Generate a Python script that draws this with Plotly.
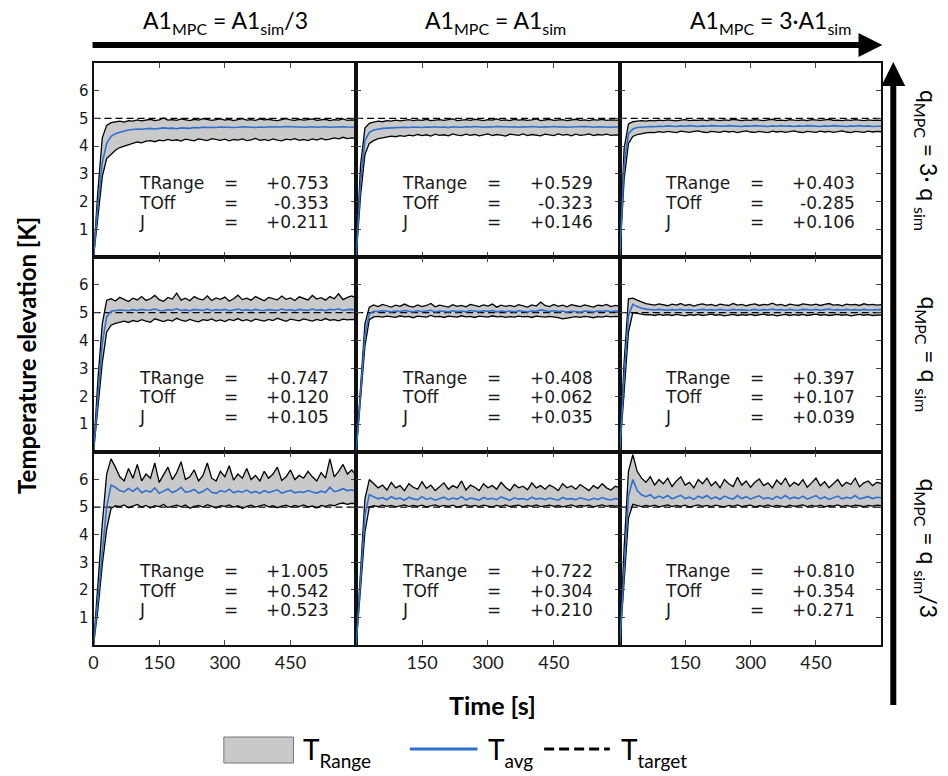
import plotly.graph_objects as go

# ---------------- data ----------------
TIME_S = list(range(0, 601, 10))
TARGET_K = 5.0

TRANGE = [0.753, 0.529, 0.403, 0.747, 0.408, 0.397, 1.005, 0.722, 0.810]
TOFF = [-0.353, -0.323, -0.285, 0.120, 0.062, 0.107, 0.542, 0.304, 0.354]
J_VAL = [0.211, 0.146, 0.106, 0.105, 0.035, 0.039, 0.523, 0.210, 0.271]

X_TICKS = [0, 150, 300, 450]
Y_TICKS = [1, 2, 3, 4, 5, 6]

# row 1 : q_MPC = 3 q_sim
P11_UP = [0, 2.4, 4.3, 4.75, 4.85, 4.88, 4.9, 4.87, 4.92, 4.9,
          4.95, 4.91, 4.93, 4.97, 4.92, 4.95, 5.02, 4.94, 4.96, 4.93,
          4.98, 4.95, 4.92, 4.97, 4.94, 4.99, 4.95, 4.93, 4.96, 4.98,
          4.94, 4.97, 4.92, 4.95, 4.99, 4.94, 4.96, 4.93, 4.98, 4.95,
          4.97, 4.94, 4.92, 4.96, 4.99, 4.95, 4.93, 4.97, 4.94, 4.96,
          4.98, 4.93, 4.95, 4.97, 4.92, 4.96, 4.94, 4.98, 4.93, 4.95,
          4.94]
P11_AVG = [0, 1.9, 3.4, 4.1, 4.35, 4.45, 4.5, 4.55, 4.58, 4.6,
           4.62, 4.61, 4.63, 4.64, 4.62, 4.65, 4.66, 4.64, 4.65, 4.63,
           4.66, 4.65, 4.64, 4.67, 4.66, 4.68, 4.67, 4.66, 4.67, 4.69,
           4.68, 4.69, 4.67, 4.68, 4.7, 4.69, 4.68, 4.67, 4.69, 4.68,
           4.7, 4.69, 4.68, 4.69, 4.71, 4.7, 4.69, 4.7, 4.68, 4.69,
           4.7, 4.68, 4.69, 4.7, 4.68, 4.69, 4.68, 4.7, 4.69, 4.68,
           4.68]
P11_LO = [0, 1.5, 2.9, 3.55, 3.7, 3.85, 3.95, 4.0, 4.05, 4.1,
          4.15, 4.12, 4.18, 4.2, 4.16, 4.22, 4.19, 4.24, 4.2, 4.23,
          4.18, 4.25, 4.21, 4.19, 4.26, 4.22, 4.2, 4.27, 4.23, 4.21,
          4.25, 4.19, 4.24, 4.22, 4.26, 4.2, 4.23, 4.28, 4.21, 4.24,
          4.2, 4.26, 4.22, 4.19, 4.25, 4.23, 4.27, 4.21, 4.24, 4.2,
          4.26, 4.22, 4.28, 4.23, 4.25, 4.3, 4.26, 4.32, 4.27, 4.3,
          4.28]

P12_UP = [0, 3.3, 4.65, 4.82, 4.87, 4.9, 4.88, 4.92, 4.9, 4.94,
          4.91, 4.93, 4.96, 4.92, 4.95, 4.93, 4.97, 4.92, 4.94, 4.96,
          4.93, 4.95, 4.98, 4.92, 4.94, 4.96, 4.93, 4.97, 4.95, 4.92,
          4.96, 4.94, 4.98, 4.93, 4.95, 4.92, 4.97, 4.94, 4.96, 4.93,
          4.95, 4.98, 4.92, 4.94, 4.97, 4.93, 4.95, 4.96, 4.92, 4.94,
          4.97, 4.93, 4.95, 4.92, 4.96, 4.94, 4.97, 4.93, 4.95, 4.94,
          4.93]
P12_AVG = [0, 2.7, 4.2, 4.5, 4.58, 4.62, 4.64, 4.65, 4.66, 4.67,
           4.66, 4.68, 4.67, 4.69, 4.68, 4.67, 4.69, 4.68, 4.7, 4.68,
           4.69, 4.67, 4.7, 4.69, 4.68, 4.7, 4.69, 4.71, 4.69, 4.68,
           4.7, 4.69, 4.71, 4.7, 4.68, 4.69, 4.7, 4.68, 4.7, 4.69,
           4.71, 4.7, 4.68, 4.7, 4.69, 4.71, 4.69, 4.7, 4.68, 4.69,
           4.7, 4.69, 4.71, 4.7, 4.68, 4.7, 4.69, 4.7, 4.68, 4.69,
           4.69]
P12_LO = [0, 2.2, 3.7, 4.1, 4.2, 4.27, 4.3, 4.33, 4.36, 4.34,
          4.38, 4.35, 4.4, 4.37, 4.42, 4.38, 4.41, 4.36, 4.43, 4.39,
          4.41, 4.37, 4.44, 4.4, 4.38, 4.43, 4.39, 4.42, 4.37, 4.41,
          4.44, 4.38, 4.42, 4.4, 4.36, 4.43, 4.41, 4.39, 4.44, 4.38,
          4.42, 4.4, 4.37, 4.43, 4.41, 4.38, 4.44, 4.4, 4.42, 4.37,
          4.43, 4.39, 4.41, 4.44, 4.38, 4.42, 4.4, 4.43, 4.39, 4.41,
          4.4]

P13_UP = [0, 3.9, 4.8, 4.88, 4.9, 4.92, 4.9, 4.93, 4.91, 4.94,
          4.92, 4.95, 4.93, 4.91, 4.94, 4.96, 4.92, 4.94, 4.93, 4.95,
          4.92, 4.96, 4.94, 4.92, 4.95, 4.93, 4.97, 4.94, 4.92, 4.95,
          4.93, 4.96, 4.94, 4.92, 4.95, 4.97, 4.93, 4.94, 4.92, 4.96,
          4.94, 4.93, 4.95, 4.92, 4.96, 4.94, 4.93, 4.95, 4.97, 4.93,
          4.94, 4.92, 4.95, 4.93, 4.96, 4.94, 4.92, 4.95, 4.93, 4.94,
          4.93]
P13_AVG = [0, 3.3, 4.45, 4.62, 4.67, 4.69, 4.7, 4.71, 4.7, 4.72,
           4.71, 4.73, 4.72, 4.71, 4.73, 4.72, 4.74, 4.72, 4.71, 4.73,
           4.72, 4.74, 4.73, 4.71, 4.72, 4.74, 4.73, 4.72, 4.71, 4.73,
           4.72, 4.74, 4.73, 4.72, 4.71, 4.73, 4.72, 4.74, 4.72, 4.73,
           4.71, 4.73, 4.72, 4.74, 4.73, 4.72, 4.71, 4.73, 4.72, 4.74,
           4.73, 4.72, 4.71, 4.73, 4.72, 4.74, 4.72, 4.73, 4.71, 4.72,
           4.72]
P13_LO = [0, 2.8, 4.1, 4.35, 4.42, 4.46, 4.48, 4.5, 4.49, 4.52,
          4.5, 4.53, 4.51, 4.49, 4.54, 4.52, 4.5, 4.53, 4.55, 4.51,
          4.49, 4.53, 4.52, 4.5, 4.54, 4.51, 4.53, 4.49, 4.52, 4.55,
          4.51, 4.5, 4.53, 4.52, 4.49, 4.54, 4.51, 4.53, 4.5, 4.52,
          4.55, 4.51, 4.49, 4.53, 4.52, 4.5, 4.54, 4.51, 4.53, 4.5,
          4.52, 4.55, 4.51, 4.49, 4.53, 4.52, 4.5, 4.54, 4.51, 4.53,
          4.52]

# row 2 : q_MPC = q_sim
P21_UP = [0, 2.6, 4.6, 5.45, 5.5, 5.42, 5.55, 5.48, 5.4, 5.52,
          5.46, 5.58, 5.44, 5.5, 5.62, 5.47, 5.41, 5.55, 5.49, 5.7,
          5.45, 5.52, 5.43, 5.58, 5.5, 5.46, 5.6, 5.44, 5.53, 5.48,
          5.56, 5.42, 5.5, 5.63, 5.47, 5.52, 5.45, 5.58, 5.49, 5.43,
          5.55, 5.5, 5.46, 5.6, 5.48, 5.53, 5.44, 5.57, 5.51, 5.46,
          5.62, 5.49, 5.54, 5.45, 5.58, 5.5, 5.68, 5.47, 5.55, 5.6,
          5.52]
P21_AVG = [0, 2.1, 3.9, 4.85, 5.05, 5.08, 5.1, 5.09, 5.07, 5.11,
           5.08, 5.12, 5.09, 5.1, 5.13, 5.08, 5.07, 5.11, 5.09, 5.14,
           5.08, 5.1, 5.07, 5.12, 5.1, 5.08, 5.13, 5.07, 5.11, 5.09,
           5.12, 5.07, 5.1, 5.13, 5.08, 5.11, 5.07, 5.12, 5.09, 5.08,
           5.11, 5.1, 5.08, 5.13, 5.09, 5.11, 5.07, 5.12, 5.1, 5.08,
           5.13, 5.09, 5.11, 5.07, 5.12, 5.1, 5.14, 5.08, 5.11, 5.12,
           5.1]
P21_LO = [0, 1.6, 3.2, 4.3, 4.55, 4.62, 4.66, 4.7, 4.65, 4.72,
          4.68, 4.75, 4.7, 4.66, 4.78, 4.72, 4.68, 4.74, 4.7, 4.8,
          4.73, 4.69, 4.76, 4.71, 4.67, 4.75, 4.72, 4.78, 4.7, 4.74,
          4.68, 4.76, 4.72, 4.79, 4.71, 4.75, 4.69, 4.77, 4.73, 4.7,
          4.76, 4.72, 4.8, 4.74, 4.69, 4.77, 4.73, 4.71, 4.78, 4.74,
          4.7, 4.76, 4.72, 4.79, 4.73, 4.75, 4.71, 4.77, 4.74, 4.76,
          4.75]

P22_UP = [0, 2.5, 4.6, 5.2, 5.28, 5.22, 5.3, 5.25, 5.2, 5.27,
          5.23, 5.31, 5.24, 5.2, 5.28, 5.22, 5.26, 5.33, 5.21, 5.27,
          5.24, 5.2, 5.29, 5.23, 5.26, 5.21, 5.3, 5.25, 5.22, 5.28,
          5.24, 5.31, 5.2, 5.27, 5.23, 5.26, 5.22, 5.29, 5.25, 5.2,
          5.28, 5.24, 5.38, 5.26, 5.22, 5.3, 5.23, 5.27, 5.21, 5.29,
          5.25, 5.22, 5.28, 5.24, 5.2, 5.27, 5.25, 5.3, 5.22, 5.26,
          5.24]
P22_AVG = [0, 2.2, 4.2, 4.95, 5.05, 5.04, 5.07, 5.05, 5.03, 5.06,
           5.04, 5.08, 5.05, 5.03, 5.07, 5.04, 5.06, 5.09, 5.03, 5.06,
           5.05, 5.03, 5.07, 5.04, 5.06, 5.03, 5.08, 5.05, 5.04, 5.07,
           5.05, 5.08, 5.03, 5.06, 5.04, 5.06, 5.03, 5.07, 5.05, 5.03,
           5.06, 5.05, 5.1, 5.06, 5.04, 5.07, 5.04, 5.06, 5.02, 5.05,
           5.04, 5.02, 5.06, 5.04, 5.03, 5.06, 5.05, 5.07, 5.04, 5.06,
           5.05]
P22_LO = [0, 1.9, 3.8, 4.75, 4.85, 4.87, 4.84, 4.88, 4.86, 4.83,
          4.89, 4.85, 4.87, 4.82, 4.88, 4.86, 4.84, 4.9, 4.85, 4.87,
          4.83, 4.88, 4.86, 4.84, 4.89, 4.85, 4.87, 4.83, 4.88, 4.86,
          4.84, 4.89, 4.85, 4.87, 4.83, 4.86, 4.84, 4.88, 4.85, 4.87,
          4.83, 4.88, 4.86, 4.84, 4.87, 4.85, 4.82, 4.78, 4.8, 4.84,
          4.86, 4.83, 4.87, 4.85, 4.82, 4.86, 4.84, 4.88, 4.85, 4.87,
          4.86]

P23_UP = [0, 3.2, 5.5, 5.52, 5.45, 5.38, 5.33, 5.3, 5.27, 5.32,
          5.28, 5.25, 5.31, 5.27, 5.33, 5.26, 5.3, 5.24, 5.29, 5.32,
          5.27, 5.3, 5.25, 5.31, 5.28, 5.26, 5.33, 5.27, 5.3, 5.25,
          5.29, 5.32, 5.26, 5.3, 5.28, 5.34, 5.27, 5.3, 5.25, 5.31,
          5.28, 5.26, 5.32, 5.29, 5.27, 5.31, 5.26, 5.3, 5.33, 5.27,
          5.29, 5.25, 5.31, 5.28, 5.3, 5.26, 5.32, 5.28, 5.3, 5.27,
          5.29]
P23_AVG = [0, 2.7, 4.9, 5.3, 5.22, 5.16, 5.13, 5.11, 5.1, 5.12,
           5.1, 5.09, 5.11, 5.1, 5.12, 5.09, 5.11, 5.08, 5.1, 5.12,
           5.1, 5.11, 5.09, 5.12, 5.1, 5.09, 5.12, 5.1, 5.11, 5.09,
           5.1, 5.12, 5.09, 5.11, 5.1, 5.13, 5.1, 5.11, 5.09, 5.12,
           5.1, 5.09, 5.12, 5.11, 5.1, 5.12, 5.09, 5.11, 5.13, 5.1,
           5.11, 5.09, 5.12, 5.1, 5.11, 5.09, 5.12, 5.1, 5.11, 5.1,
           5.11]
P23_LO = [0, 2.2, 4.3, 5.0, 4.98, 4.94, 4.92, 4.93, 4.9, 4.94,
          4.91, 4.93, 4.9, 4.94, 4.92, 4.89, 4.93, 4.91, 4.94, 4.9,
          4.92, 4.95, 4.91, 4.93, 4.89, 4.92, 4.94, 4.9, 4.93, 4.91,
          4.94, 4.9, 4.92, 4.95, 4.91, 4.93, 4.89, 4.92, 4.94, 4.9,
          4.93, 4.91, 4.94, 4.9, 4.92, 4.95, 4.91, 4.93, 4.9, 4.92,
          4.94, 4.91, 4.93, 4.89, 4.92, 4.94, 4.91, 4.93, 4.9, 4.92,
          4.92]

# row 3 : q_MPC = q_sim/3
P31_UP = [0, 2.2, 4.4, 6.2, 6.75, 6.45, 6.1, 5.95, 6.4, 6.05,
          6.55, 5.95, 6.2, 6.05, 6.6, 5.9, 6.15, 6.45, 6.0, 6.25,
          6.65, 6.0, 6.1, 6.35, 5.95, 6.15, 6.6, 6.05, 5.95, 6.3,
          6.1, 6.5, 5.98, 6.2, 6.05, 6.4, 6.0, 6.15, 5.95, 6.3,
          6.05, 6.2, 6.45, 5.97, 6.1, 6.35, 6.0, 6.15, 6.05, 6.3,
          6.1, 5.95, 6.25, 6.05, 6.75, 6.1, 6.3, 6.55, 6.2, 6.35,
          6.15]
P31_AVG = [0, 1.7, 3.5, 5.0, 5.8, 5.72, 5.6, 5.55, 5.68, 5.57,
           5.7, 5.52, 5.6, 5.55, 5.7, 5.5, 5.58, 5.66, 5.53, 5.6,
           5.72, 5.54, 5.57, 5.64, 5.51, 5.57, 5.68, 5.54, 5.5, 5.6,
           5.55, 5.65, 5.52, 5.58, 5.54, 5.62, 5.52, 5.57, 5.5, 5.6,
           5.53, 5.57, 5.63, 5.51, 5.55, 5.61, 5.52, 5.56, 5.53, 5.6,
           5.55, 5.51, 5.58, 5.53, 5.72, 5.56, 5.6, 5.67, 5.6, 5.63,
           5.58]
P31_LO = [0, 1.3, 2.9, 4.2, 4.95, 5.05, 5.02, 5.08, 4.98, 5.04,
          5.1, 5.0, 5.06, 4.97, 5.05, 5.02, 5.1, 4.99, 5.04, 5.07,
          5.01, 5.08, 4.96, 5.03, 5.06, 5.0, 5.09, 5.02, 4.97, 5.05,
          5.03, 5.08, 5.0, 5.05, 4.95, 5.03, 5.07, 5.0, 5.04, 5.09,
          5.01, 5.05, 4.98, 5.04, 5.07, 5.0, 5.06, 5.02, 5.08, 5.01,
          5.04, 4.97, 5.06, 5.03, 5.08, 5.05, 5.12, 5.15, 5.1, 5.14,
          5.12]

P32_UP = [0, 2.8, 5.3, 6.0, 5.85, 5.7, 5.8, 5.62, 5.9, 5.7,
          5.78, 5.6, 5.85, 5.72, 5.65, 5.92, 5.68, 5.8, 5.6, 5.75,
          5.88, 5.65, 5.78, 5.7, 5.95, 5.62, 5.8, 5.72, 5.6, 5.85,
          5.7, 5.78, 5.65, 5.9, 5.72, 5.6, 5.82, 5.7, 5.76, 5.63,
          5.88, 5.7, 5.78, 5.65, 5.8, 5.72, 5.6, 5.85, 5.7, 5.77,
          5.65, 5.82, 5.7, 5.6, 5.78, 5.68, 5.85, 5.7, 5.62, 5.76,
          5.7]
P32_AVG = [0, 2.3, 4.7, 5.45, 5.38, 5.3, 5.35, 5.27, 5.38, 5.3,
           5.33, 5.25, 5.36, 5.3, 5.27, 5.38, 5.28, 5.33, 5.25, 5.31,
           5.36, 5.27, 5.33, 5.29, 5.38, 5.26, 5.33, 5.3, 5.25, 5.35,
           5.29, 5.32, 5.27, 5.37, 5.3, 5.25, 5.34, 5.29, 5.31, 5.26,
           5.36, 5.29, 5.32, 5.27, 5.33, 5.3, 5.25, 5.35, 5.29, 5.31,
           5.27, 5.34, 5.29, 5.25, 5.32, 5.28, 5.35, 5.29, 5.26, 5.31,
           5.29]
P32_LO = [0, 1.9, 4.1, 5.0, 5.05, 5.02, 5.07, 5.03, 5.06, 5.01,
          5.05, 5.08, 5.02, 5.06, 5.03, 5.07, 5.01, 5.05, 5.08, 5.02,
          5.06, 5.03, 5.07, 5.0, 5.05, 5.08, 5.03, 5.06, 5.02, 5.07,
          5.04, 5.01, 5.06, 5.03, 5.08, 5.02, 5.05, 5.07, 5.01, 5.06,
          5.03, 5.08, 5.02, 5.05, 5.07, 5.03, 5.06, 5.01, 5.05, 5.08,
          5.02, 5.06, 5.04, 5.07, 5.01, 5.05, 5.08, 5.03, 5.06, 5.04,
          5.05]

P33_UP = [0, 3.5, 6.3, 6.9, 6.3, 6.05, 5.9, 6.1, 5.8, 6.0,
          5.85, 6.05, 5.75, 5.95, 6.1, 5.8, 5.9, 5.7, 6.0, 5.85,
          6.05, 5.78, 5.92, 5.7, 6.0, 5.85, 5.75, 6.08, 5.8, 5.95,
          5.72, 5.9, 6.02, 5.78, 5.88, 5.7, 5.98, 5.82, 6.05, 5.75,
          5.9, 5.8, 6.0, 5.72, 5.88, 6.05, 5.78, 5.92, 5.7, 5.85,
          6.0, 5.76, 5.9, 5.82, 6.05, 5.74, 5.88, 5.95, 5.78, 5.9,
          5.85]
P33_AVG = [0, 2.9, 5.4, 6.0, 5.6, 5.45, 5.38, 5.45, 5.32, 5.4,
           5.33, 5.42, 5.3, 5.37, 5.43, 5.31, 5.36, 5.28, 5.4, 5.33,
           5.42, 5.3, 5.37, 5.28, 5.4, 5.33, 5.29, 5.42, 5.31, 5.38,
           5.29, 5.36, 5.41, 5.3, 5.35, 5.28, 5.39, 5.32, 5.42, 5.3,
           5.36, 5.31, 5.4, 5.29, 5.35, 5.42, 5.3, 5.37, 5.28, 5.34,
           5.4, 5.3, 5.36, 5.32, 5.42, 5.3, 5.35, 5.38, 5.31, 5.36,
           5.34]
P33_LO = [0, 2.3, 4.6, 5.1, 5.05, 5.02, 5.06, 5.03, 5.07, 5.01,
          5.05, 5.08, 5.02, 5.06, 5.03, 5.07, 5.0, 5.05, 5.08, 5.03,
          5.06, 5.02, 5.07, 5.04, 5.01, 5.06, 5.03, 5.08, 5.02, 5.05,
          5.07, 5.01, 5.05, 5.03, 5.08, 5.02, 5.06, 5.04, 5.01, 5.07,
          5.03, 5.05, 5.08, 5.02, 5.06, 5.03, 5.07, 5.01, 5.05, 5.04,
          5.08, 5.02, 5.06, 5.03, 5.07, 5.05, 5.02, 5.06, 5.04, 5.07,
          5.05]

PANELS = [
    (P11_LO, P11_AVG, P11_UP), (P12_LO, P12_AVG, P12_UP), (P13_LO, P13_AVG, P13_UP),
    (P21_LO, P21_AVG, P21_UP), (P22_LO, P22_AVG, P22_UP), (P23_LO, P23_AVG, P23_UP),
    (P31_LO, P31_AVG, P31_UP), (P32_LO, P32_AVG, P32_UP), (P33_LO, P33_AVG, P33_UP),
]
for trio in PANELS:
    for s in trio:
        assert len(s) == len(TIME_S), len(s)


# subscript rendered as a shifted span with an explicit pixel size
def sub(s, size, shift):
    return f'<span style="font-size:{size}px;baseline-shift:-{shift}px">{s}</span>'


COL_TITLES = ["A1" + sub("MPC", 16, 6) + " = A1" + sub("sim", 16, 6) + "/3",
              "A1" + sub("MPC", 16, 6) + " = A1" + sub("sim", 16, 6),
              "A1" + sub("MPC", 16, 6) + " = 3·A1" + sub("sim", 16, 6)]
ROW_TITLES = ["q" + sub("MPC", 16, 6) + " = 3· q " + sub("sim", 16, 6),
              "q" + sub("MPC", 16, 6) + " = q " + sub("sim", 16, 6),
              "q" + sub("MPC", 16, 6) + " = q " + sub("sim", 16, 6) + "/3"]
LEGEND_TEXTS = ["T" + sub("Range", 19, 8), "T" + sub("avg", 19, 8), "T" + sub("target", 19, 8)]

# ---------------- layout helpers ----------------
W, H = 948, 776
COL_EDGES = [89, 353, 618, 881]
ROW_EDGES = [63, 257, 452, 645]


def px(x):
    return x / W


def py(y):
    return 1 - y / H


FILL = "#c9c9c9"
BLUE = "#2f6fce"
TXT = "#1a1a1a"
HFONT = "Lato"

fig = go.Figure()
annotations = []
shapes = []

for k, (lo, avg, up) in enumerate(PANELS):
    r, c = divmod(k, 3)
    suf = "" if k == 0 else str(k + 1)
    xn, yn = "x" + suf, "y" + suf
    fig.add_trace(go.Scatter(x=TIME_S, y=lo, mode="lines", line=dict(color="black", width=1.3),
                             xaxis=xn, yaxis=yn, showlegend=False, name="T min"))
    fig.add_trace(go.Scatter(x=TIME_S, y=up, mode="lines", line=dict(color="black", width=1.3),
                             fill="tonexty", fillcolor=FILL,
                             xaxis=xn, yaxis=yn, showlegend=False, name="T max"))
    fig.add_trace(go.Scatter(x=[TIME_S[0], TIME_S[-1]], y=[TARGET_K, TARGET_K], mode="lines",
                             line=dict(color="black", width=1.3, dash="7px,4px"),
                             xaxis=xn, yaxis=yn, showlegend=False, name="T target"))
    fig.add_trace(go.Scatter(x=TIME_S, y=avg, mode="lines", line=dict(color=BLUE, width=1.6),
                             xaxis=xn, yaxis=yn, showlegend=False, name="T avg"))

    xt = X_TICKS if c == 0 else X_TICKS[1:]
    xtt = [str(v) for v in xt]
    x0p, x1p = COL_EDGES[c], COL_EDGES[c + 1]
    y0p, y1p = ROW_EDGES[r], ROW_EDGES[r + 1]
    xa = dict(domain=[px(x0p), px(x1p)], range=[0, 600], anchor=yn,
              tickmode="array", tickvals=xt, ticktext=xtt, showticklabels=(r == 2),
              ticks="inside", ticklen=5, tickwidth=1, tickcolor="#444",
              showline=True, linecolor="#111", linewidth=2, mirror="ticks",
              showgrid=False, zeroline=False,
              tickfont=dict(family=HFONT, size=18, color=TXT))
    ya = dict(domain=[py(y1p), py(y0p)], range=[0, 7], anchor=xn,
              tickmode="array", tickvals=Y_TICKS, showticklabels=(c == 0),
              ticks="inside", ticklen=5, tickwidth=1, tickcolor="#444",
              showline=True, linecolor="#111", linewidth=2, mirror="ticks",
              showgrid=False, zeroline=False,
              tickfont=dict(family="DejaVu Sans", size=15, color=TXT))
    fig.update_layout(**{"xaxis" + suf: xa, "yaxis" + suf: ya})

    labels = ["TRange", "TOff", "J"]
    values = [TRANGE[k], TOFF[k], J_VAL[k]]
    pw, ph = x1p - x0p, y1p - y0p
    yrel = [0.381, 0.280, 0.180]
    for lab, val, yy in zip(labels, values, yrel):
        ypix = y1p - yy * ph
        common = dict(xref="paper", yref="paper", y=py(ypix), yanchor="middle",
                      showarrow=False, font=dict(family="DejaVu Sans", size=17, color=TXT))
        annotations.append(dict(text=lab, x=px(x0p + 0.167 * pw), xanchor="left", **common))
        annotations.append(dict(text="=", x=px(x0p + 0.524 * pw), xanchor="center", **common))
        annotations.append(dict(text=f"{val:+.3f}", x=px(x0p + 0.905 * pw), xanchor="right", **common))

# column headers
for txt, cx in zip(COL_TITLES, [222, 493, 770]):
    annotations.append(dict(text=txt, xref="paper", yref="paper", x=px(cx), y=py(22),
                            xanchor="center", yanchor="middle", showarrow=False,
                            font=dict(family=HFONT, size=23, color="black")))
# row labels (right)
for r, txt in enumerate(ROW_TITLES):
    cy = (ROW_EDGES[r] + ROW_EDGES[r + 1]) / 2
    annotations.append(dict(text=txt, xref="paper", yref="paper", x=px(927), y=py(cy),
                            xanchor="center", yanchor="middle", textangle=90, showarrow=False,
                            font=dict(family=HFONT, size=23, color="black")))
# axis titles
annotations.append(dict(text="<b>Temperature elevation [K]</b>", xref="paper", yref="paper",
                        x=px(22), y=py(355), xanchor="center", yanchor="middle", textangle=-90,
                        showarrow=False, font=dict(family=HFONT, size=24, color="black")))
annotations.append(dict(text="<b>Time [s]</b>", xref="paper", yref="paper",
                        x=px(490), y=py(705), xanchor="center", yanchor="middle",
                        showarrow=False, font=dict(family=HFONT, size=25, color="black")))

# arrows
shapes.append(dict(type="line", xref="paper", yref="paper", x0=px(88), x1=px(862), y0=py(45), y1=py(45),
                   line=dict(color="black", width=6)))
shapes.append(dict(type="path", xref="paper", yref="paper",
                   path=f"M {px(858)} {py(33)} L {px(882)} {py(45)} L {px(858)} {py(57)} Z",
                   fillcolor="black", line=dict(color="black", width=0)))
shapes.append(dict(type="line", xref="paper", yref="paper", x0=px(893), x1=px(893), y0=py(705), y1=py(82),
                   line=dict(color="black", width=6)))
shapes.append(dict(type="path", xref="paper", yref="paper",
                   path=f"M {px(881)} {py(86)} L {px(893)} {py(62)} L {px(905)} {py(86)} Z",
                   fillcolor="black", line=dict(color="black", width=0)))

# legend
shapes.append(dict(type="rect", xref="paper", yref="paper", x0=px(220), x1=px(290), y0=py(763), y1=py(737),
                   fillcolor=FILL, line=dict(color="#777", width=1)))
shapes.append(dict(type="line", xref="paper", yref="paper", x0=px(407), x1=px(475), y0=py(749), y1=py(749),
                   line=dict(color=BLUE, width=3)))
shapes.append(dict(type="line", xref="paper", yref="paper", x0=px(542), x1=px(608), y0=py(749), y1=py(749),
                   line=dict(color="black", width=3, dash="10px,5px")))
for txt, lx in zip(LEGEND_TEXTS, [298, 484, 617]):
    annotations.append(dict(text=txt, xref="paper", yref="paper", x=px(lx), y=py(752),
                            xanchor="left", yanchor="middle", showarrow=False,
                            font=dict(family=HFONT, size=28, color="black")))

fig.update_layout(width=W, height=H, margin=dict(l=0, r=0, t=0, b=0),
                  paper_bgcolor="white", plot_bgcolor="white",
                  annotations=annotations, shapes=shapes, showlegend=False)

fig.write_html("out.html")
